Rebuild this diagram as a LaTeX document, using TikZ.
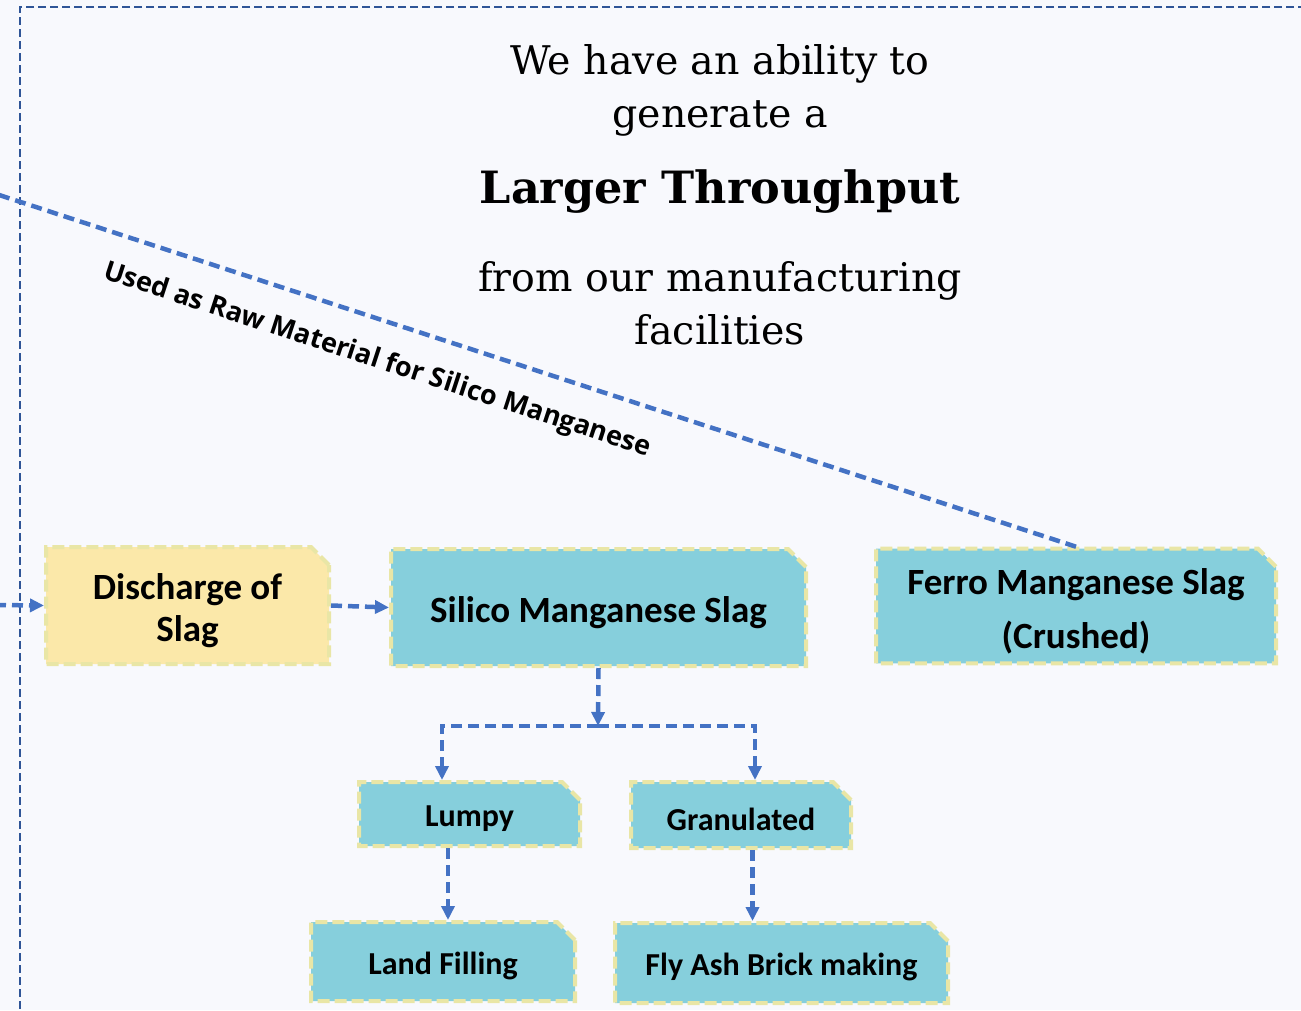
\documentclass[tikz,border=0pt]{standalone}
\usepackage{fontspec}
\setmainfont{DejaVu Serif}
\newfontfamily\calfont{Carlito}
\newfontfamily\labfont{Open Sans}
\usepackage{xcolor}
\usepackage{tikz}
\usetikzlibrary{arrows.meta,shapes.misc}

\definecolor{pagebg}{HTML}{F8F9FD}
\definecolor{framecol}{HTML}{2F5597}
\definecolor{flowcol}{HTML}{4472C4}
\definecolor{slagfill}{HTML}{86CFDC}
\definecolor{dischfill}{HTML}{FBE8A9}
\definecolor{edgecol}{HTML}{E9E6A6}

\begin{document}
\begin{tikzpicture}[
    x=1pt, y=-1pt,
    slagbox/.style={chamfered rectangle, chamfered rectangle corners=north east,
      chamfered rectangle xsep=9pt, chamfered rectangle ysep=9pt,
      draw=edgecol, line width=4pt, dash pattern=on 12pt off 5pt,
      fill=slagfill, align=center, font=\calfont\bfseries, inner sep=0pt},
    bigtext/.style={font=\calfont\bfseries\fontsize{37}{#1}\selectfont},
    smalltext/.style={font=\calfont\bfseries\fontsize{32}{34}\selectfont, text height=31pt},
    flow/.style={-{Triangle[length=14pt,width=13pt]}, draw=flowcol, line width=4.5pt,
      dash pattern=on 11pt off 6pt},
    headline/.style={align=center, font=\fontsize{39.5}{53}\selectfont}
  ]
    \useasboundingbox (0,0) rectangle (1301,1010);
    \clip (0,0) rectangle (1301,1010);
    \fill[pagebg] (0,0) rectangle (1301,1010);
    \draw[framecol, line width=2.2pt, dash pattern=on 8pt off 4pt] (1330,7) -- (20,7) -- (20,1040);

    % headline
    \node[headline] (head1) at (720,90) {We have an ability to\\generate a};
    \node[headline, font=\fontsize{44.5}{50}\selectfont\bfseries] (head2) at (720,192) {Larger Throughput};
    \node[headline] (head3) at (720,303) {from our manufacturing\\facilities};

    % slag boxes
    \node[slagbox, fill=dischfill, minimum width=283pt, minimum height=117pt,
      bigtext=42, text height=79pt] (disch) at (187.5,605.5) {Discharge of\\Slag};
    \node[slagbox, minimum width=415pt, minimum height=117pt,
      bigtext=40, text height=37pt] (silico) at (598.5,607.5) {Silico Manganese Slag};
    \node[slagbox, minimum width=400pt, minimum height=114pt,
      bigtext=54, text height=91pt] (ferro) at (1076,606) {Ferro Manganese Slag\\(Crushed)};
    \node[slagbox, minimum width=221pt, minimum height=64pt, smalltext] (lumpy) at (469.5,814) {Lumpy};
    \node[slagbox, minimum width=220pt, minimum height=66pt, smalltext] (gran) at (741,815) {Granulated};
    \node[slagbox, minimum width=264pt, minimum height=79pt, smalltext] (land) at (443,961.5) {Land Filling};
    \node[slagbox, minimum width=333pt, minimum height=80pt, smalltext] (flyash) at (781.5,963) {Fly Ash Brick making};

    % connectors
    \coordinate (feed) at (-5,605);
    \coordinate (rawend) at (-10,192);
    \coordinate (split) at (598,726);
    \coordinate (lturn) at (442,726);
    \coordinate (gturn) at (755,726);

    \draw[flow] (feed) -- (disch.west);
    \draw[flow] (disch.east) -- (silico.west);
    \draw[flow, -] (ferro.north) -- (rawend)
      node[pos=0.632, sloped, below=21pt, text=black, font=\labfont\bfseries\fontsize{27}{30}\selectfont]
      {Used as Raw Material for Silico Manganese};
    \draw[flow] (silico.south) -- (split);
    \draw[flow] (split) -- (lturn) -- (lturn |- lumpy.north);
    \draw[flow] (split) -- (gturn) -- (gturn |- gran.north);
    \draw[flow] ([xshift=5pt]land.north |- lumpy.south) -- ([xshift=5pt]land.north);
    \draw[flow] ([xshift=-29pt]flyash.north |- gran.south) -- ([xshift=-29pt]flyash.north);
  \end{tikzpicture}
\end{document}
